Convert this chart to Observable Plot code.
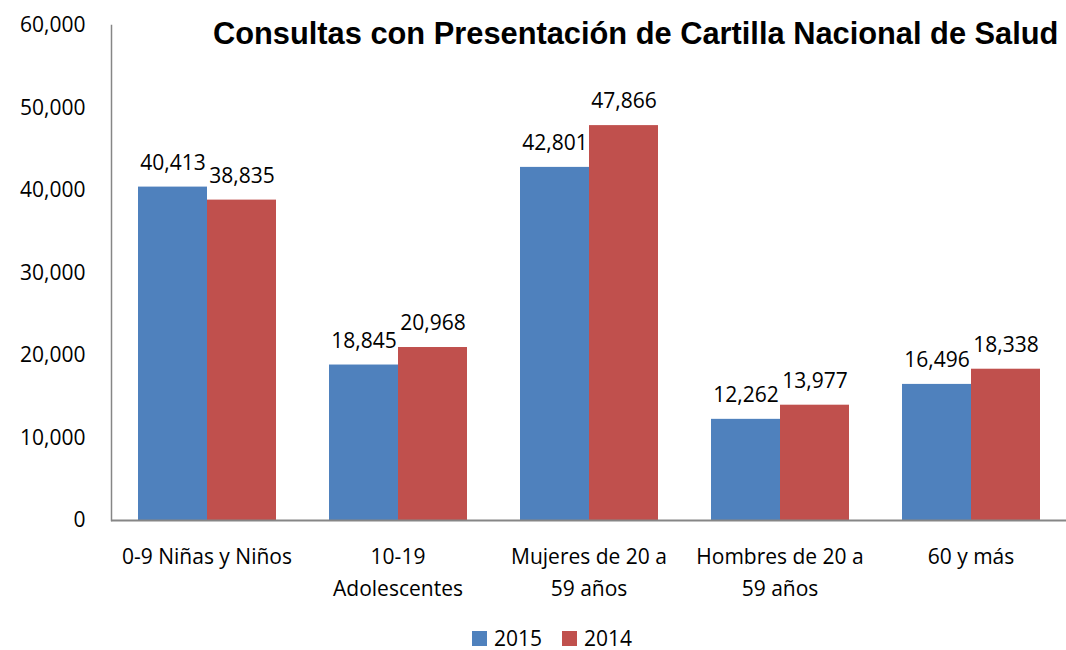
<!DOCTYPE html>
<html>
<head>
<meta charset="utf-8">
<script src="https://cdn.jsdelivr.net/npm/d3@7"></script>
<script src="https://cdn.jsdelivr.net/npm/@observablehq/plot@0.6"></script>
<style>
  body { margin: 0; background: #fff; font-family: "Open Sans", sans-serif; }
  #wrap { position: relative; width: 1066px; height: 650px; }
  #title { position: absolute; left: 213px; top: 16px; font-family: "Liberation Sans", Arial, sans-serif; font-weight: bold; font-size: 30.8px; color: #000; white-space: nowrap; }
  #legend { display: flex; justify-content: center; align-items: center; gap: 0; font-size: 21px; line-height: 22px; height: 22px; padding-left: 38px; margin-top: 7px; }
  .item { display: flex; align-items: center; margin: 0 10px; }
  .sw { width: 15px; height: 15px; margin-right: 7px; }
</style>
</head>
<body>
<div id="wrap">
  <div id="chart"></div>
  <div id="legend"></div>
  <div id="title">Consultas con Presentación de Cartilla Nacional de Salud</div>
</div>
<script>
const categories = ["0-9 Niñas y Niños", "10-19 Adolescentes", "Mujeres de 20 a 59 años", "Hombres de 20 a 59 años", "60 y más"];
const categoryLabels = ["0-9 Niñas y Niños", "10-19\nAdolescentes", "Mujeres de 20 a\n59 años", "Hombres de 20 a\n59 años", "60 y más"];
const series = ["2015", "2014"];
const values2015 = [40413, 18845, 42801, 12262, 16496];
const values2014 = [38835, 20968, 47866, 13977, 18338];
const yTicks = [0, 10000, 20000, 30000, 40000, 50000, 60000];
const colors = ["#4F81BD", "#C0504D"];

const data = [];
categories.forEach((c, i) => {
  data.push({cat: c, year: "2015", value: values2015[i]});
  data.push({cat: c, year: "2014", value: values2014[i]});
});
const fmt = d3.format(",");
const labelOf = new Map(categories.map((c, i) => [c, categoryLabels[i]]));

const chart = Plot.plot({
  width: 1066,
  height: 620,
  marginLeft: 111,
  marginRight: 0,
  marginTop: 25,
  marginBottom: 100,
  style: {fontFamily: "Open Sans", fontSize: "21px", color: "#000", background: "#fff", overflow: "visible"},
  fx: {domain: categories, padding: 0, label: null, axis: null},
  x: {domain: series, paddingInner: 0, paddingOuter: 0.37, axis: null},
  y: {domain: [0, 60000], label: null},
  color: {domain: series, range: colors},
  marks: [
    Plot.barY(data, {fx: "cat", x: "year", y: "value", fill: "year"}),
    Plot.text(data, {fx: "cat", x: "year", y: "value", text: d => fmt(d.value), dy: -24, fontSize: 21, fill: "#000"}),
    Plot.axisY({ticks: yTicks, tickFormat: fmt, tickSize: 0, tickPadding: 26, fontSize: 21, label: null}),
    Plot.axisFx({anchor: "bottom", tickSize: 0, tickPadding: 20, tickFormat: d => labelOf.get(d), lineHeight: 1.55, fontSize: 21, label: null}),
    Plot.frame({anchor: "left", stroke: "#868686", strokeWidth: 1.5, facetAnchor: "left"}),
    Plot.ruleY([0], {stroke: "#868686", strokeWidth: 2})
  ]
});
document.getElementById("chart").appendChild(chart);

const legend = document.getElementById("legend");
series.forEach((s, i) => {
  const item = document.createElement("div");
  item.className = "item";
  const sw = document.createElement("div");
  sw.className = "sw";
  sw.style.background = colors[i];
  const t = document.createElement("span");
  t.textContent = s;
  item.appendChild(sw);
  item.appendChild(t);
  legend.appendChild(item);
});
</script>
</body>
</html>
